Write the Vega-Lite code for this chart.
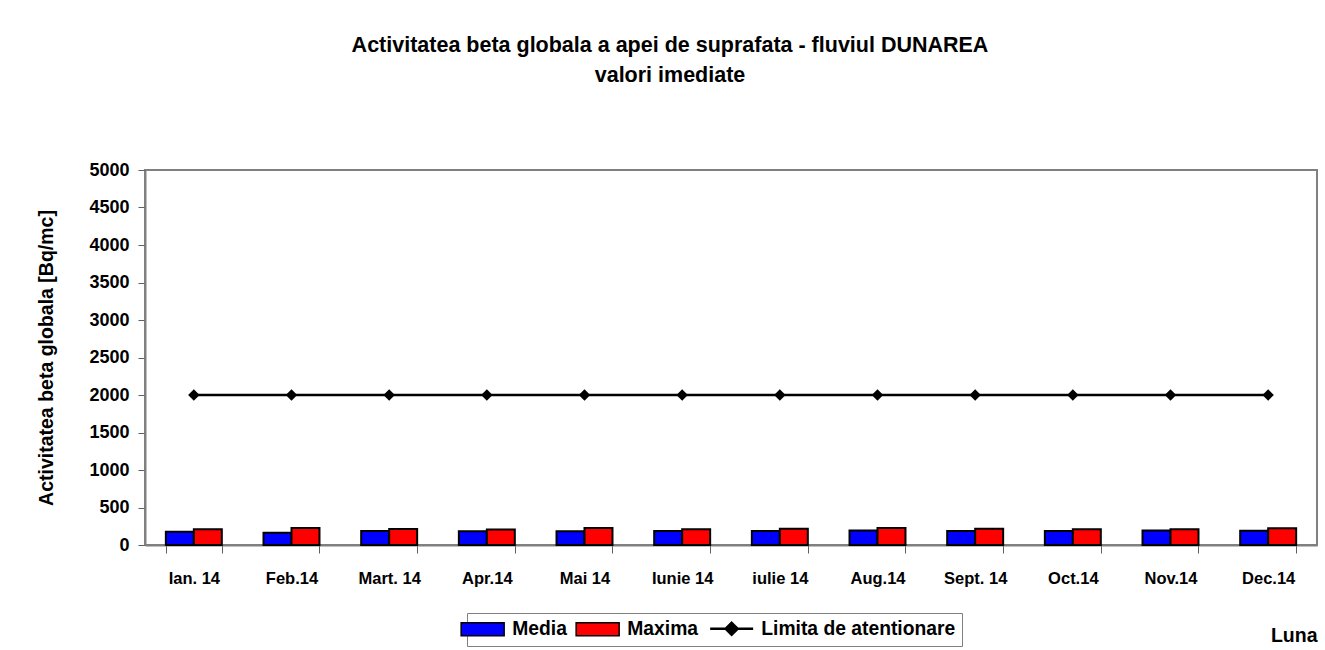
{
  "$schema": "https://vega.github.io/schema/vega-lite/v6.json",
  "autosize": {"type": "none"},
  "width": 1172,
  "height": 375,
  "padding": {"left": 145, "top": 170, "right": 8, "bottom": 105},
  "background": "white",
  "config": {
    "font": "Liberation Sans",
    "view": {"stroke": "#808080", "strokeWidth": 2}
  },
  "title": {
    "text": ["Activitatea beta globala a apei de suprafata - fluviul DUNAREA", "valori imediate"],
    "font": "Liberation Sans",
    "fontSize": 21.5,
    "fontWeight": "bold",
    "color": "#000000",
    "lineHeight": 30,
    "anchor": "middle",
    "frame": "group",
    "dx": -61,
    "offset": 75
  },
  "datasets": {
    "bars": [
      {"luna": "Ian. 14", "serie": "Media", "val": 177},
      {"luna": "Ian. 14", "serie": "Maxima", "val": 209},
      {"luna": "Feb.14", "serie": "Media", "val": 164},
      {"luna": "Feb.14", "serie": "Maxima", "val": 227},
      {"luna": "Mart. 14", "serie": "Media", "val": 187},
      {"luna": "Mart. 14", "serie": "Maxima", "val": 212},
      {"luna": "Apr.14", "serie": "Media", "val": 185},
      {"luna": "Apr.14", "serie": "Maxima", "val": 208},
      {"luna": "Mai 14", "serie": "Media", "val": 182},
      {"luna": "Mai 14", "serie": "Maxima", "val": 227},
      {"luna": "Iunie 14", "serie": "Media", "val": 187},
      {"luna": "Iunie 14", "serie": "Maxima", "val": 209},
      {"luna": "iulie 14", "serie": "Media", "val": 187},
      {"luna": "iulie 14", "serie": "Maxima", "val": 218},
      {"luna": "Aug.14", "serie": "Media", "val": 195},
      {"luna": "Aug.14", "serie": "Maxima", "val": 227},
      {"luna": "Sept. 14", "serie": "Media", "val": 187},
      {"luna": "Sept. 14", "serie": "Maxima", "val": 218},
      {"luna": "Oct.14", "serie": "Media", "val": 187},
      {"luna": "Oct.14", "serie": "Maxima", "val": 209},
      {"luna": "Nov.14", "serie": "Media", "val": 195},
      {"luna": "Nov.14", "serie": "Maxima", "val": 209},
      {"luna": "Dec.14", "serie": "Media", "val": 190},
      {"luna": "Dec.14", "serie": "Maxima", "val": 222}
    ],
    "limita": [
      {"luna": "Ian. 14", "serie": "Limita de atentionare", "val": 2000},
      {"luna": "Feb.14", "serie": "Limita de atentionare", "val": 2000},
      {"luna": "Mart. 14", "serie": "Limita de atentionare", "val": 2000},
      {"luna": "Apr.14", "serie": "Limita de atentionare", "val": 2000},
      {"luna": "Mai 14", "serie": "Limita de atentionare", "val": 2000},
      {"luna": "Iunie 14", "serie": "Limita de atentionare", "val": 2000},
      {"luna": "iulie 14", "serie": "Limita de atentionare", "val": 2000},
      {"luna": "Aug.14", "serie": "Limita de atentionare", "val": 2000},
      {"luna": "Sept. 14", "serie": "Limita de atentionare", "val": 2000},
      {"luna": "Oct.14", "serie": "Limita de atentionare", "val": 2000},
      {"luna": "Nov.14", "serie": "Limita de atentionare", "val": 2000},
      {"luna": "Dec.14", "serie": "Limita de atentionare", "val": 2000}
    ]
  },
  "encoding": {
    "x": {
      "field": "luna",
      "type": "nominal",
      "sort": null,
      "scale": {"paddingInner": 0.427, "paddingOuter": 0.2135},
      "axis": {
        "title": "Luna",
        "titleFont": "Liberation Sans",
        "titleFontSize": 19.5,
        "titleFontWeight": "bold",
        "titleColor": "#000000",
        "titleAnchor": "end",
        "titleAlign": "right",
        "titlePadding": 40,
        "labelAngle": 0,
        "labelFont": "Liberation Sans",
        "labelFontSize": 16.5,
        "labelFontWeight": "bold",
        "labelColor": "#000000",
        "labelPadding": 17,
        "tickBand": "extent",
        "tickSize": 8,
        "tickColor": "#606060",
        "tickWidth": 1,
        "domainColor": "#808080",
        "domainWidth": 2
      }
    },
    "y": {
      "field": "val",
      "type": "quantitative",
      "scale": {"domain": [0, 5000], "nice": false},
      "axis": {
        "title": "Activitatea beta globala [Bq/mc]",
        "titleFont": "Liberation Sans",
        "titleFontSize": 19.5,
        "titleFontWeight": "bold",
        "titleColor": "#000000",
        "titlePadding": 32,
        "values": [0, 500, 1000, 1500, 2000, 2500, 3000, 3500, 4000, 4500, 5000],
        "format": "d",
        "labelFont": "Liberation Sans",
        "labelFontSize": 18,
        "labelFontWeight": "bold",
        "labelColor": "#000000",
        "labelPadding": 9,
        "tickSize": 7,
        "tickColor": "#606060",
        "domainColor": "#808080",
        "domainWidth": 2,
        "grid": false
      }
    }
  },
  "layer": [
    {
      "data": {"name": "bars"},
      "mark": {"type": "bar", "stroke": "#000000", "strokeWidth": 2},
      "encoding": {
        "xOffset": {"field": "serie", "type": "nominal", "sort": ["Media", "Maxima"], "scale": {"paddingInner": 0, "paddingOuter": 0}},
        "color": {
          "field": "serie",
          "type": "nominal",
          "scale": {"domain": ["Media", "Maxima", "Limita de atentionare"], "range": ["#0000FF", "#FF0000", "#000000"]},
          "legend": {
            "title": null,
            "orient": "none",
            "direction": "horizontal",
            "legendX": 322,
            "legendY": 443,
            "padding": 6,
            "strokeColor": "#808080",
            "fillColor": "#ffffff",
            "labelFont": "Liberation Sans",
            "labelFontSize": 19.3,
            "labelFontWeight": "bold",
            "labelColor": "#000000",
            "labelOffset": 20,
            "labelLimit": 400,
            "columnPadding": 6,
            "symbolSize": 1849,
            "symbolStrokeColor": "#000000",
            "symbolStrokeWidth": 1.5,
            "symbolOpacity": 1,
            "encode": {
              "symbols": {
                "update": {
                  "shape": {"signal": "datum.value === 'Limita de atentionare' ? 'M-1,0H1M0,-0.28L0.28,0L0,0.28L-0.28,0Z' : 'M-1,-0.3H1V0.3H-1Z'"},
                  "strokeWidth": {"signal": "datum.value === 'Limita de atentionare' ? 2.5 : 1.5"}
                }
              }
            }
          }
        }
      }
    },
    {
      "data": {"name": "limita"},
      "mark": {"type": "line", "color": "#000000", "strokeWidth": 2.5, "point": {"shape": "diamond", "filled": true, "size": 130, "color": "#000000"}},
      "encoding": {}
    }
  ]
}
